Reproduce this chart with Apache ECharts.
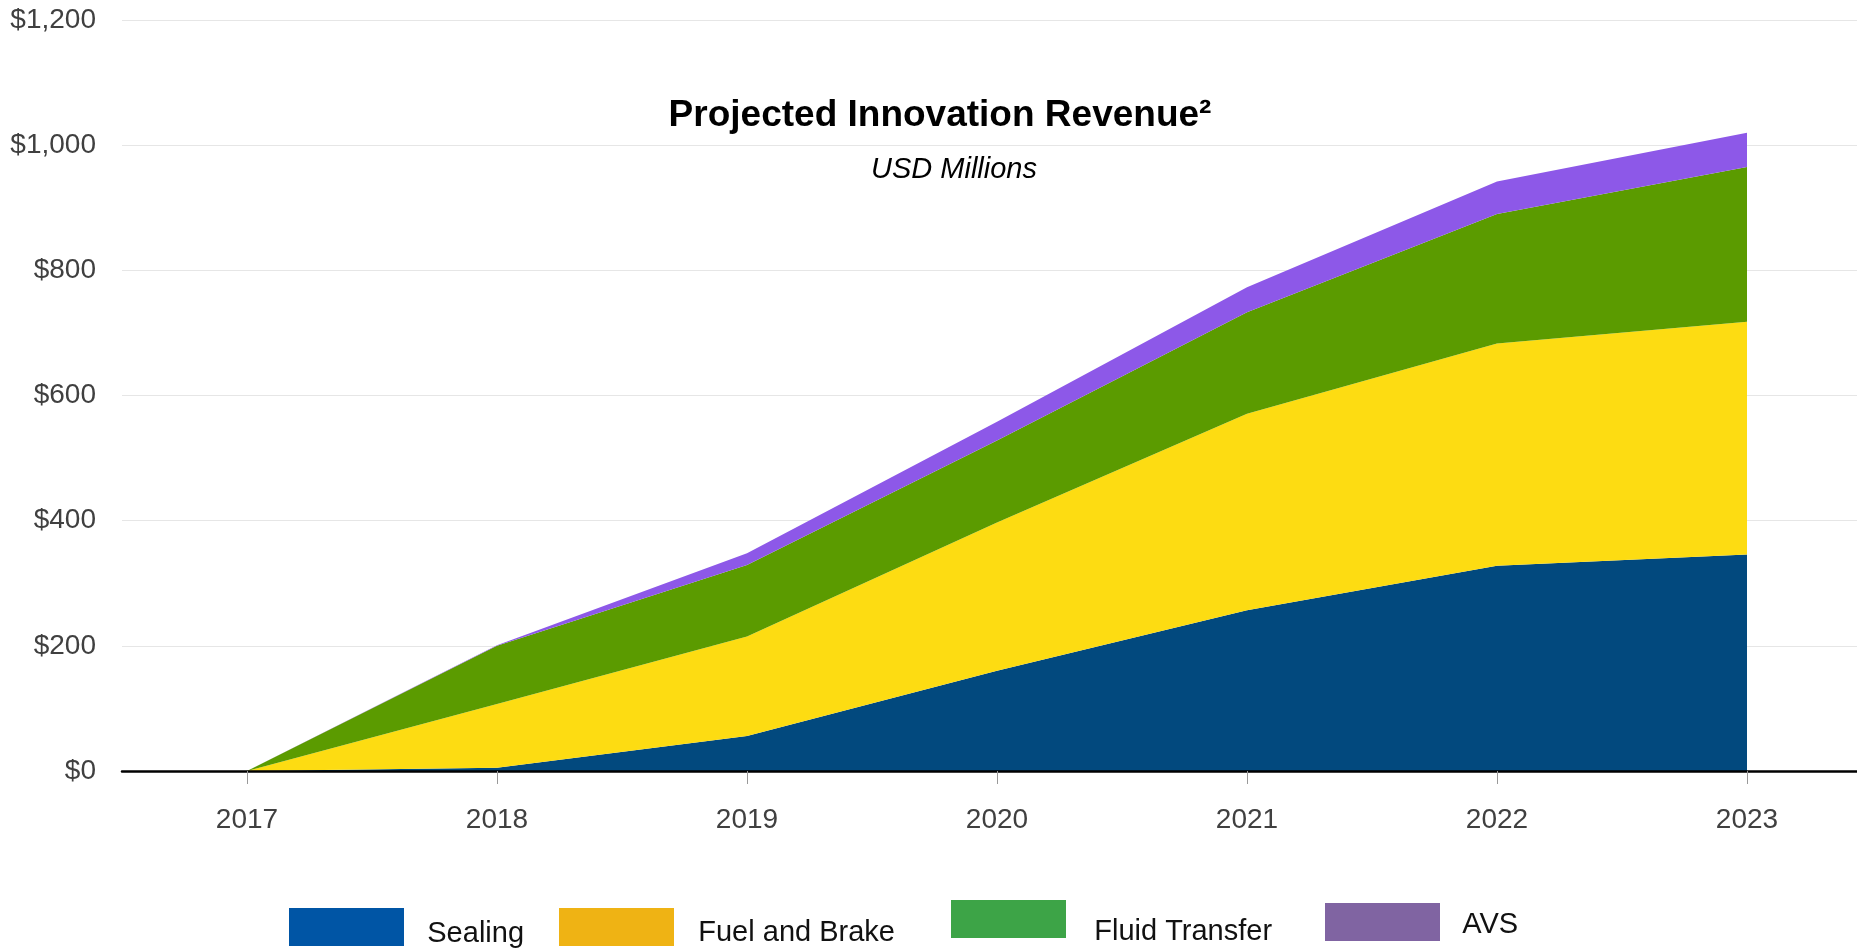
<html>
    <head>
        <title>Projected Innovation Revenue</title>
        <meta charset="utf-8">
        <script type="text/javascript" src="https://cdn.jsdelivr.net/npm/echarts@6/dist/echarts.min.js"></script>
        <style>
            html, body { margin: 0; padding: 0; background: #fff; }
            #chart { width: 1857px; height: 948px; }
        </style>
    </head>
    <body>
        <div id="chart"></div>
        <script type="text/javascript">
            // values, USD millions
            var years = ['2017', '2018', '2019', '2020', '2021', '2022', '2023'];
            var sealing = [0, 5, 56, 160, 257, 328, 346];
            var fuelBrake = [0, 102, 159, 237, 314, 355, 372];
            var fluidTransfer = [0, 93, 114, 131, 162, 207, 247];
            var avs = [0, 1, 19, 30, 40, 52, 55];

            var seriesNames = ['Sealing', 'Fuel and Brake', 'Fluid Transfer', 'AVS'];
            var seriesData = [sealing, fuelBrake, fluidTransfer, avs];
            var areaColors = ['#02497E', '#FDDC12', '#5B9B00', '#8D58E8'];
            var legendColors = ['#0055A5', '#EFB314', '#3DA447', '#8064A2'];

            var font = "'Liberation Sans', Arial, sans-serif";

            // legend boxes sit a little unevenly in the original,
            // lh = height of an invisible spacer that pushes the label down
            var legendPos = [
                { left: 289, top: 908, gap: 18, lh: 43 },
                { left: 559, top: 908, gap: 19, lh: 41 },
                { left: 951, top: 900, gap: 23, lh: 55 },
                { left: 1325, top: 903, gap: 17, lh: 34 }
            ];

            var legends = [];
            var series = [];
            for (var i = 0; i < seriesNames.length; i++) {
                legends.push({
                    left: legendPos[i].left,
                    top: legendPos[i].top,
                    padding: 0,
                    icon: 'rect',
                    itemWidth: 115,
                    itemHeight: 38,
                    selectedMode: false,
                    formatter: '{s| }{t|{name}}',
                    textStyle: {
                        fontFamily: font,
                        fontSize: 29,
                        color: '#111',
                        padding: [0, 0, 0, legendPos[i].gap],
                        rich: {
                            s: { fontSize: 1, lineHeight: legendPos[i].lh },
                            t: { fontFamily: font, fontSize: 29, color: '#111', lineHeight: 33, verticalAlign: 'bottom' }
                        }
                    },
                    data: [{ name: seriesNames[i], itemStyle: { color: legendColors[i] } }]
                });
                series.push({
                    name: seriesNames[i],
                    type: 'line',
                    stack: 'total',
                    data: seriesData[i],
                    showSymbol: false,
                    symbol: 'none',
                    lineStyle: { width: 0 },
                    itemStyle: { color: areaColors[i] },
                    areaStyle: { color: areaColors[i], opacity: 1 },
                    emphasis: { disabled: true }
                });
            }

            var myChart = echarts.init(document.getElementById('chart'));
            myChart.setOption({
                animation: false,
                backgroundColor: '#fff',
                graphic: [
                    {
                        type: 'text',
                        x: 940,
                        y: 116,
                        z: 10,
                        style: {
                            text: 'Projected Innovation Revenue\u00B2',
                            font: 'bold 37px ' + font,
                            fill: '#000',
                            textAlign: 'center',
                            textVerticalAlign: 'middle'
                        }
                    },
                    {
                        type: 'text',
                        x: 954,
                        y: 170,
                        z: 10,
                        style: {
                            text: 'USD Millions',
                            font: 'italic 29px ' + font,
                            fill: '#000',
                            textAlign: 'center',
                            textVerticalAlign: 'middle'
                        }
                    }
                ],
                legend: legends,
                grid: { left: 122, top: 20, width: 1750, height: 751, outerBoundsMode: 'none' },
                xAxis: {
                    type: 'category',
                    data: years,
                    boundaryGap: true,
                    axisLine: { lineStyle: { color: '#000', width: 2.5 } },
                    axisTick: { show: true, alignWithLabel: true, length: 13, lineStyle: { color: '#999' } },
                    axisLabel: { fontFamily: font, fontSize: 28, color: '#404040', margin: 35 },
                    z: 5
                },
                yAxis: {
                    type: 'value',
                    min: 0,
                    max: 1200,
                    interval: 200,
                    axisLine: { show: false },
                    axisTick: { show: false },
                    splitLine: { lineStyle: { color: '#e6e6e6', width: 1 } },
                    axisLabel: {
                        fontFamily: font,
                        fontSize: 28,
                        color: '#404040',
                        margin: 26,
                        formatter: function (v) {
                            return '$' + v.toLocaleString('en-US');
                        }
                    }
                },
                series: series
            });
        </script>
    </body>
</html>
